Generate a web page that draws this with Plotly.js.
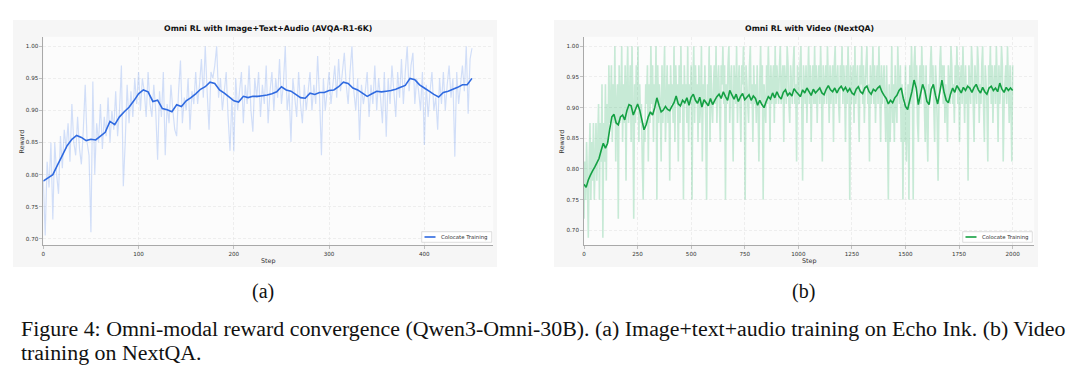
<!DOCTYPE html>
<html><head><meta charset="utf-8">
<script src="https://cdn.plot.ly/plotly-3.0.1.min.js"></script>
<style>html,body{margin:0;padding:0;background:#fff;}#chart{width:1080px;height:377px;}</style>
</head><body><div id="chart"></div>
<script>
// ---------- (a) Image+Text+Audio (AVQA-R1-6K) ----------
const titleA = "Omni RL with Image+Text+Audio (AVQA-R1-6K)";
const rawAStride = 2; // raw reward, one value every 2 steps from step 0
const rawA = [
.79,.705,.82,.78,.85,.73,.85,.80,.77,.86,
.81,.87,.84,.88,.82,.91,.85,.83,.89,.84,
.816,.87,.94,.85,.83,.71,.945,.80,.88,.85,
.91,.84,.89,.86,.92,.85,.90,.87,.93,.86,
.90,.97,.782,.85,.94,.88,.93,.89,.95,.91,
.96,.90,.95,.93,.89,.96,.91,.89,.94,.90,
.823,.93,.89,.96,.83,.91,.88,.94,.90,.87,
.86,.93,.978,.88,.92,.90,.95,.87,.93,.91,
.96,.91,.94,.98,.92,1.0,.93,.87,.96,.95,
.97,1.0,.92,.95,.90,.93,.96,.89,.837,.92,
.836,.95,.90,.93,.96,.88,.94,.91,.97,.90,
.867,.95,.92,.96,.89,.94,.91,.97,.88,.93,
.96,.90,.95,.92,.98,.91,.94,1.0,.90,.93,
.851,.95,.92,.89,.96,.91,.88,.94,.90,.93,
.96,.90,.94,.91,.985,.92,.83,.95,.90,.93,
.96,.91,.94,.97,.92,.98,.93,.96,.99,.94,
.91,.96,1.0,.93,.90,.95,.854,.94,.91,.93,
.96,.89,.94,.91,.97,.90,.95,.92,.88,.96,
.859,.95,.91,.97,.93,.89,.96,.92,.98,.91,
.96,1.0,.93,.97,.99,.91,.95,.93,.90,.96,
.846,.94,.89,.93,.96,.90,.92,.87,.95,.91,
.96,.90,.94,.97,.92,.95,.828,.96,.91,.94,
.97,.93,1.0,.895,.98,.997
];
const smoothAStride = 5; // smoothed reward, one value every 5 steps
const smoothA = [
.790,.795,.800,.815,.830,.845,.855,.861,.858,.853,
.855,.854,.860,.866,.883,.878,.890,.898,.905,.915,
.926,.932,.929,.914,.916,.903,.901,.898,.909,.906,
.915,.920,.926,.933,.937,.944,.942,.932,.927,.921,
.915,.913,.922,.920,.922,.922,.923,.924,.926,.929,
.937,.932,.930,.925,.920,.919,.927,.925,.928,.928,
.931,.932,.937,.944,.942,.935,.932,.927,.922,.926,
.930,.929,.930,.931,.933,.936,.939,.950,.948,.940,
.935,.930,.925,.921,.928,.930,.933,.936,.940,.940,
.950
];
const ticksA = [0,100,200,300,400];

// ---------- (b) Video (NextQA) ----------
const titleB = "Omni RL with Video (NextQA)";
const rawBStride = 4; // raw reward, one value every 4 steps from step 0
const rawB = [
.719,.812,.75,.844,.781,.688,.812,.875,.75,.844,.781,.875,.75,.812,.875,.781,.844,.906,.75,.875,.812,.938,.688,.875,.812,.938,.781,.906,.844,.969,.875,
.906,.969,.844,.938,.875,1.0,.812,.906,.938,.719,.969,.875,.906,1.0,.844,.938,.875,.969,.781,.938,1.0,.875,.906,.969,.844,1.0,.906,.719,.938,.875,.969,.906,1.0,.844,.938,.875,.906,.812,.75,.875,.844,.938,.906,.969,.812,
.938,.875,1.0,.906,.969,.844,.938,.906,1.0,.75,.969,.875,.938,.906,.812,.969,.875,.938,1.0,.844,.906,.969,.875,.938,.781,.969,.906,.938,.875,1.0,.844,.969,.906,.938,.812,.969,.875,1.0,.906,.938,.75,.969,.906,.938,.875,1.0,.844,.938,.906,.969,.75,.938,1.0,.875,.969,.906,.938,.844,.969,.875,.906,1.0,.812,.938,.906,.969,.875,.75,.938,.906,1.0,.844,.969,.906,.875,
.938,.969,.906,1.0,.875,.938,.969,.906,.844,.969,.938,1.0,.906,.969,.75,.938,.906,.969,1.0,.875,.938,.969,.906,.812,.969,.938,.906,1.0,.875,.938,.969,.906,.844,.969,.938,1.0,.906,.75,.969,.938,.906,.875,.969,1.0,.906,.938,.844,.969,.906,.938,.875,.969,.906,.812,.938,1.0,.906,.969,.75,.938,.906,.875,.969,.906,1.0,.938,.844,.969,.906,.938,.969,.875,1.0,.906,.969,
.938,.906,.969,1.0,.906,.938,.969,.844,.969,.938,.906,1.0,.969,.906,.875,.969,.938,.906,.969,1.0,.906,.938,.812,.969,.938,
.906,.969,1.0,.906,.781,.969,.938,.906,.969,.875,.938,1.0,.906,.969,.844,.938,.969,.906,1.0,.906,.969,.875,.938,.969,.906,
1.0,.938,.812,.969,.906,.938,.969,.906,1.0,.938,.875,.969,.906,.938,.969,.844,.969,1.0,.906,.938,.969,.906,.875,.969,.938,
1.0,.906,.969,.938,.844,.969,.906,1.0,.938,.75,.969,.906,.938,.969,.875,1.0,.906,.938,.969,.906,.844,.969,.938,1.0,.906,
.969,.875,.938,.969,1.0,.906,.938,.812,.969,.906,.938,1.0,.906,.969,.875,.938,.969,.906,1.0,.938,.844,.969,.906,.938,.969,
.906,.844,.969,.875,.75,.938,.844,.906,1.0,.875,.938,.844,.969,.906,.875,1.0,.938,.906,.969,.844,.938,.75,.906,.844,.969,.812,.875,.938,.75,.969,.906,1.0,.938,.75,.969,1.0,.938,.969,.875,.844,.938,.969,.906,1.0,.938,.969,.906,.844,.969,.875,.812,.938,.906,.969,1.0,.938,.969,.906,.844,.969,.938,.875,.781,.906,.969,1.0,.938,.969,.906,.969,.875,.938,.906,.844,.969,
.938,.906,1.0,.969,.906,.938,.875,.969,.938,1.0,.906,.969,.844,.938,.969,.906,1.0,.938,.875,.969,.906,.938,.781,.969,.938,
.906,1.0,.969,.906,.844,.969,.938,.906,1.0,.969,.875,.938,.906,.969,1.0,.906,.844,.969,.938,.906,.812,.969,.938,1.0,.906,
.969,.875,.938,.969,.906,1.0,.938,.844,.969,.906,.938,1.0,.969,.812,.906,.938,.969,.906,1.0,.938,.875,.969,.906,.812,.969
];
const smoothBStride = 10; // smoothed reward, one value every 10 steps
const smoothB = [
.775,.770,.782,.790,.797,.803,.810,.817,.830,.842,
.834,.842,.865,.885,.889,.875,.872,.885,.888,.880,
.895,.905,.903,.888,.897,.906,.896,.880,.864,.872,
.885,.893,.888,.900,.916,.904,.893,.896,.902,.897,
.895,.902,.908,.919,.906,.903,.912,.908,.916,.904,
.917,.922,.912,.907,.917,.901,.913,.908,.903,.915,
.905,.912,.918,.922,.915,.926,.918,.912,.928,.921,
.914,.922,.910,.918,.923,.913,.917,.921,.912,.919,
.915,.904,.912,.905,.900,.910,.918,.914,.924,.916,
.926,.918,.914,.925,.929,.920,.924,.919,.931,.926,
.922,.918,.929,.924,.932,.926,.920,.930,.924,.928,
.932,.924,.921,.930,.936,.929,.926,.932,.924,.931,
.935,.928,.933,.926,.931,.924,.921,.930,.934,.926,
.923,.932,.935,.926,.922,.930,.927,.932,.935,.926,
.920,.915,.906,.912,.908,.916,.920,.928,.932,.915,
.902,.897,.912,.926,.945,.932,.905,.922,.938,.928,
.910,.905,.930,.938,.920,.906,.925,.945,.925,.912,
.908,.922,.932,.925,.936,.930,.924,.933,.928,.935,
.932,.925,.933,.938,.929,.924,.933,.926,.922,.932,
.935,.928,.932,.926,.940,.930,.925,.933,.928,.932,
.928
];
const ticksB = [0,250,500,750,1000,1250,1500,1750,2000];

const seriesName = "Colocate Training";
const yTicks = [0.70,0.75,0.80,0.85,0.90,0.95,1.00];
const captionSub = ["(a)", "(b)"];
const captionLine1 = "Figure 4: Omni-modal reward convergence (Qwen3-Omni-30B). (a) Image+text+audio training on Echo Ink. (b) Video";
const captionLine2 = "training on NextQA.";

// ---------- build ----------
const steps = (arr, stride) => arr.map((_, i) => i * stride);
const blue = "#2f6ae0", blueRaw = "rgba(60,120,235,0.22)";
const green = "#14a043", greenRaw = "rgba(40,180,100,0.25)";

const traces = [
  {x: steps(rawA, rawAStride), y: rawA, xaxis: "x", yaxis: "y", mode: "lines", line: {color: blueRaw, width: 1.2, simplify: false}, hoverinfo: "skip", showlegend: false},
  {x: steps(smoothA, smoothAStride), y: smoothA, xaxis: "x", yaxis: "y", mode: "lines", name: seriesName, line: {color: blue, width: 1.6, simplify: false}, showlegend: false},
  {x: steps(rawB, rawBStride), y: rawB, xaxis: "x2", yaxis: "y2", mode: "lines", line: {color: greenRaw, width: 1.6, simplify: false}, hoverinfo: "skip", showlegend: false},
  {x: steps(smoothB, smoothBStride), y: smoothB, xaxis: "x2", yaxis: "y2", mode: "lines", name: seriesName, line: {color: green, width: 1.6, simplify: false}, showlegend: false}
];

const W = 1080, H = 377;
const px = v => v / W, py = v => 1 - v / H;
const tickFont = {family: "DejaVu Sans", size: 5.6, color: "#333"};
const axCommon = {
  showline: true, linecolor: "#a9a9a9", linewidth: 1.4, mirror: false,
  ticks: "outside", ticklen: 2.5, tickwidth: 0.7, tickcolor: "#a9a9a9",
  showgrid: true, gridcolor: "#e4e4e4", gridwidth: 0.6, griddash: "3px,2px",
  zeroline: false, tickfont: tickFont, fixedrange: true
};
const yDomain = [py(245), py(36.7)];

const layout = {
  width: W, height: H, margin: {l: 0, r: 0, t: 0, b: 0},
  paper_bgcolor: "#ffffff", plot_bgcolor: "rgba(0,0,0,0)",
  showlegend: false,
  xaxis: Object.assign({}, axCommon, {domain: [px(43.3), px(493.3)], range: [0, 472.4], tickvals: ticksA, anchor: "y"}),
  yaxis: Object.assign({}, axCommon, {domain: yDomain, range: [0.6902, 1.015], tickvals: yTicks, tickformat: ".2f", anchor: "x"}),
  xaxis2: Object.assign({}, axCommon, {domain: [px(584), px(1034.3)], range: [0, 2101], tickvals: ticksB, anchor: "y2"}),
  yaxis2: Object.assign({}, axCommon, {domain: yDomain, range: [0.676, 1.0157], tickvals: yTicks, tickformat: ".2f", anchor: "x2"}),
  shapes: [
    {type: "rect", xref: "paper", yref: "paper", x0: px(13), x1: px(497), y0: py(267), y1: py(20), fillcolor: "#f6f6f6", line: {width: 0}, layer: "below"},
    {type: "rect", xref: "paper", yref: "paper", x0: px(554), x1: px(1038), y0: py(267), y1: py(20), fillcolor: "#f6f6f6", line: {width: 0}, layer: "below"},
    {type: "rect", xref: "paper", yref: "paper", x0: px(43.3), x1: px(493.3), y0: py(245), y1: py(36.7), fillcolor: "#fcfcfc", line: {width: 0}, layer: "below"},
    {type: "rect", xref: "paper", yref: "paper", x0: px(584), x1: px(1034.3), y0: py(245), y1: py(36.7), fillcolor: "#fcfcfc", line: {width: 0}, layer: "below"},
    // legend boxes
    {type: "rect", xref: "paper", yref: "paper", x0: px(421.7), x1: px(491.7), y0: py(242.3), y1: py(231.7), fillcolor: "#ffffff", line: {color: "#d0d0d0", width: 0.7}},
    {type: "line", xref: "paper", yref: "paper", x0: px(424.5), x1: px(435.5), y0: py(237), y1: py(237), line: {color: blue, width: 1.6}},
    {type: "rect", xref: "paper", yref: "paper", x0: px(962.7), x1: px(1032.3), y0: py(242.3), y1: py(231.7), fillcolor: "#ffffff", line: {color: "#d0d0d0", width: 0.7}},
    {type: "line", xref: "paper", yref: "paper", x0: px(965.5), x1: px(976.5), y0: py(237), y1: py(237), line: {color: green, width: 1.6}}
  ],
  annotations: [
    {text: titleA, xref: "paper", yref: "paper", x: px(268.3), y: py(28), showarrow: false, xanchor: "center", yanchor: "middle", font: {family: "DejaVu Sans", size: 7.8, color: "#111", weight: "bold"}},
    {text: titleB, xref: "paper", yref: "paper", x: px(809), y: py(28), showarrow: false, xanchor: "center", yanchor: "middle", font: {family: "DejaVu Sans", size: 7.8, color: "#111", weight: "bold"}},
    {text: "Step", xref: "paper", yref: "paper", x: px(268.3), y: py(260.5), showarrow: false, xanchor: "center", yanchor: "middle", font: {family: "DejaVu Sans", size: 6.4, color: "#333"}},
    {text: "Step", xref: "paper", yref: "paper", x: px(809), y: py(260.5), showarrow: false, xanchor: "center", yanchor: "middle", font: {family: "DejaVu Sans", size: 6.4, color: "#333"}},
    {text: "Reward", xref: "paper", yref: "paper", x: px(21.5), y: py(142), textangle: -90, showarrow: false, xanchor: "center", yanchor: "middle", font: {family: "DejaVu Sans", size: 6.4, color: "#333"}},
    {text: "Reward", xref: "paper", yref: "paper", x: px(561.5), y: py(142), textangle: -90, showarrow: false, xanchor: "center", yanchor: "middle", font: {family: "DejaVu Sans", size: 6.4, color: "#333"}},
    {text: seriesName, xref: "paper", yref: "paper", x: px(439), y: py(237), showarrow: false, xanchor: "left", yanchor: "middle", font: {family: "DejaVu Sans", size: 5.4, color: "#333"}},
    {text: seriesName, xref: "paper", yref: "paper", x: px(980), y: py(237), showarrow: false, xanchor: "left", yanchor: "middle", font: {family: "DejaVu Sans", size: 5.4, color: "#333"}},
    {text: captionSub[0], xref: "paper", yref: "paper", x: px(263), y: py(291), showarrow: false, xanchor: "center", yanchor: "middle", font: {family: "Liberation Serif", size: 20, color: "#111"}},
    {text: captionSub[1], xref: "paper", yref: "paper", x: px(803), y: py(291), showarrow: false, xanchor: "center", yanchor: "middle", font: {family: "Liberation Serif", size: 20, color: "#111"}},
    {text: captionLine1, xref: "paper", yref: "paper", x: px(19), y: py(328), showarrow: false, xanchor: "left", yanchor: "middle", font: {family: "Liberation Serif", size: 21.9, color: "#111"}},
    {text: captionLine2, xref: "paper", yref: "paper", x: px(19), y: py(352), showarrow: false, xanchor: "left", yanchor: "middle", font: {family: "Liberation Serif", size: 21.9, color: "#111"}}
  ]
};

Plotly.newPlot("chart", traces, layout, {displayModeBar: false, staticPlot: true});
</script>
</body></html>
